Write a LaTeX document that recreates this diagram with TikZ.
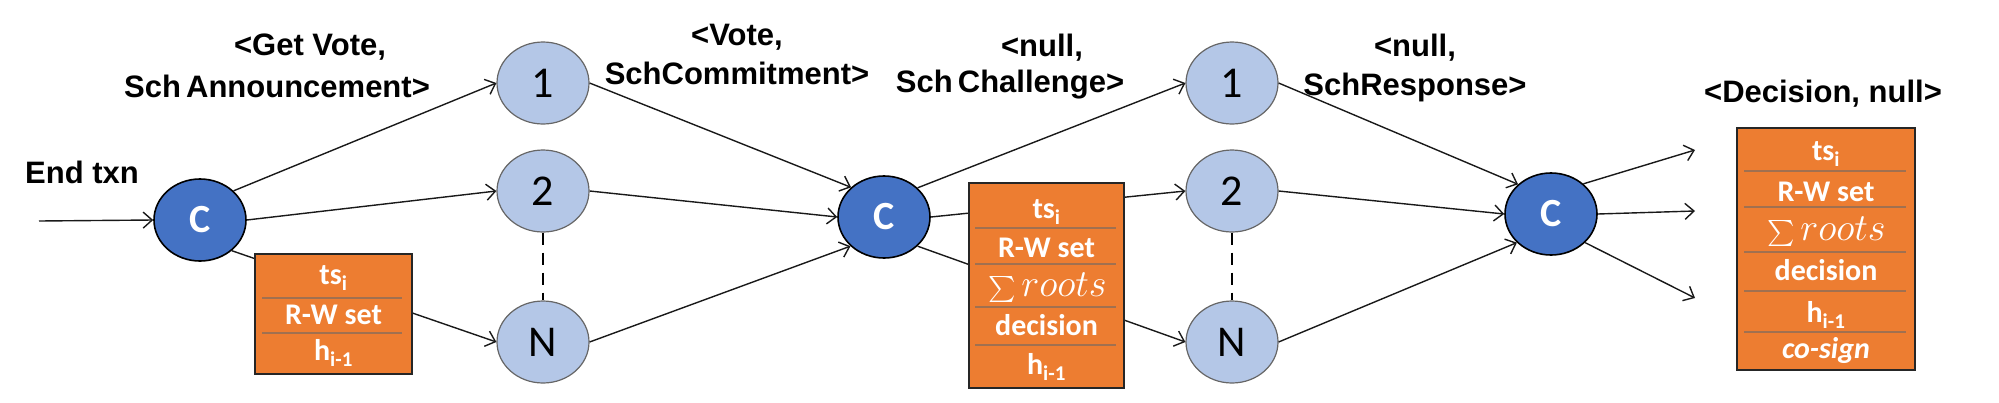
\documentclass[tikz,border=0pt]{standalone}
\usepackage{fontspec}
\newfontfamily\arialf{Liberation Sans}
\newfontfamily\calib{Carlito}
\usetikzlibrary{arrows.meta,shapes.geometric}
\definecolor{cdark}{HTML}{4472C4}
\definecolor{clight}{HTML}{B4C7E7}
\definecolor{corange}{HTML}{ED7D31}
\definecolor{csep}{HTML}{A07050}
\begin{document}
\begin{tikzpicture}[x=1pt,y=-1pt,
  coord/.style={ellipse,draw=black,line width=1.6pt,fill=cdark,minimum width=92pt,minimum height=82pt,inner sep=0pt,text=white,font=\calib\bfseries\fontsize{40}{44}\selectfont},
  party/.style={ellipse,draw=black!60,line width=1.2pt,fill=clight,minimum width=92pt,minimum height=82pt,inner sep=0pt,font=\calib\fontsize{44}{48}\selectfont},
  databox/.style={rectangle,draw=black!85,line width=1.8pt,fill=corange,inner sep=0pt},
  rowtxt/.style={text=white,inner sep=0pt,font=\calib\bfseries\fontsize{30}{34}\selectfont},
  sumtxt/.style={text=white,inner sep=0pt,scale=2.6,font=\fontsize{10}{12}\selectfont,anchor=east},
  rootstxt/.style={text=white,inner sep=0pt,scale=1.85,font=\fontsize{20}{24}\selectfont,anchor=west},
  sep/.style={draw=csep,line width=1.2pt},
  lbl/.style={inner sep=0pt,font=\arialf\bfseries\fontsize{31}{36}\selectfont},
  arr/.style={draw=black!90,line width=1.4pt,-{Straight Barb[length=9pt,width=16pt,line width=1.4pt]}},
  dots/.style={draw=black,line width=1.6pt,dash pattern=on 12pt off 8pt}]
\useasboundingbox (0,0) rectangle (1999,402);

% nodes
\node[coord] (C1) at (200,220) {C};
\node[party] (n1a) at (543,83) {1};
\node[party] (n2a) at (543,191) {2};
\node[party] (nNa) at (543,342) {N};
\node[coord] (C2) at (884,217) {C};
\node[party] (n1b) at (1232,83) {1};
\node[party] (n2b) at (1232,191) {2};
\node[party] (nNb) at (1232,342) {N};
\node[coord] (C3) at (1551,214) {C};

\coordinate (in) at (39,221);
\coordinate (o1) at (1695,150);
\coordinate (o2) at (1695,211);
\coordinate (o3) at (1695,298);

% connectors
\draw[arr] (in) -- (C1.180);
\draw[arr] (C1.41) -- (n1a.180);
\draw[arr] (C1.0) -- (n2a.180);
\draw[arr] (C1.-44) -- (nNa.180);
\draw[arr] (n1a.0) -- (C2.138);
\draw[arr] (n2a.0) -- (C2.180);
\draw[arr] (nNa.0) -- (C2.-139);
\draw[arr] (C2.41) -- (n1b.180);
\draw[arr] (C2.0) -- (n2b.180);
\draw[arr] (C2.-41) -- (nNb.180);
\draw[arr] (n1b.0) -- (C3.138);
\draw[arr] (n2b.0) -- (C3.180);
\draw[arr] (nNb.0) -- (C3.-140);
\draw[arr] (C3.43) -- (o1);
\draw[arr] (C3.0) -- (o2);
\draw[arr] (C3.-40) -- (o3);
\draw[dots] (n2a.south) -- (nNa.north);
\draw[dots] (n2b.south) -- (nNb.north);

% box 1
\node[databox,minimum width=157pt,minimum height=120pt] (b1) at (333.5,314) {};
\draw[sep] (262,298) -- (402,298);
\draw[sep] (262,333) -- (402,333);
\node[rowtxt] (b1r1) at (333.5,278) {ts\textsubscript{i}};
\node[rowtxt] (b1r2) at (333.5,315) {R-W set};
\node[rowtxt] (b1r3) at (333.5,353) {h\textsubscript{i-1}};

% box 2
\node[databox,minimum width=155pt,minimum height=205pt] (b2) at (1046.5,285.5) {};
\draw[sep] (975,228) -- (1116,228);
\draw[sep] (975,264) -- (1116,264);
\draw[sep] (975,307) -- (1116,307);
\draw[sep] (975,345) -- (1116,345);
\node[rowtxt] (b2r1) at (1046.5,212) {ts\textsubscript{i}};
\node[rowtxt] (b2r2) at (1046.5,248) {R-W set};
\node[sumtxt] (b2s) at (1016,289) {$\sum$};
\node[rootstxt] (b2r3) at (1021,285) {$roots$};
\node[rowtxt] (b2r4) at (1046.5,325) {decision};
\node[rowtxt] (b2r5) at (1046.5,367) {h\textsubscript{i-1}};

% box 3
\node[databox,minimum width=178pt,minimum height=242pt] (b3) at (1826,249) {};
\draw[sep] (1744,171) -- (1906,171);
\draw[sep] (1744,207) -- (1906,207);
\draw[sep] (1744,252) -- (1906,252);
\draw[sep] (1744,291) -- (1906,291);
\draw[sep] (1744,332) -- (1906,332);
\node[rowtxt] (b3r1) at (1826,154) {ts\textsubscript{i}};
\node[rowtxt] (b3r2) at (1826,192) {R-W set};
\node[sumtxt] (b3s) at (1795,233) {$\sum$};
\node[rootstxt] (b3r3) at (1800,229) {$roots$};
\node[rowtxt] (b3r4) at (1826,270) {decision};
\node[rowtxt] (b3r5) at (1826,315) {h\textsubscript{i-1}};
\node[rowtxt] (b3r6) at (1826,350) {\itshape co-sign};

% labels
\node[lbl] (l0) at (82,172) {End txn};
\node[lbl] (l1a) at (310,47) {<Get Vote,};
\node[lbl] (l1b) at (277,86) {Sch\,Announcement>};
\node[lbl] (l2a) at (737,37) {<Vote,};
\node[lbl] (l2b) at (737,73) {SchCommitment>};
\node[lbl] (l3a) at (1042,48) {<null,};
\node[lbl] (l3b) at (1010,85) {Sch\,Challenge>};
\node[lbl] (l4a) at (1415,48) {<null,};
\node[lbl] (l4b) at (1415,87) {SchResponse>};
\node[lbl] (l5) at (1823,94) {<Decision, null>};
\end{tikzpicture}
\end{document}
